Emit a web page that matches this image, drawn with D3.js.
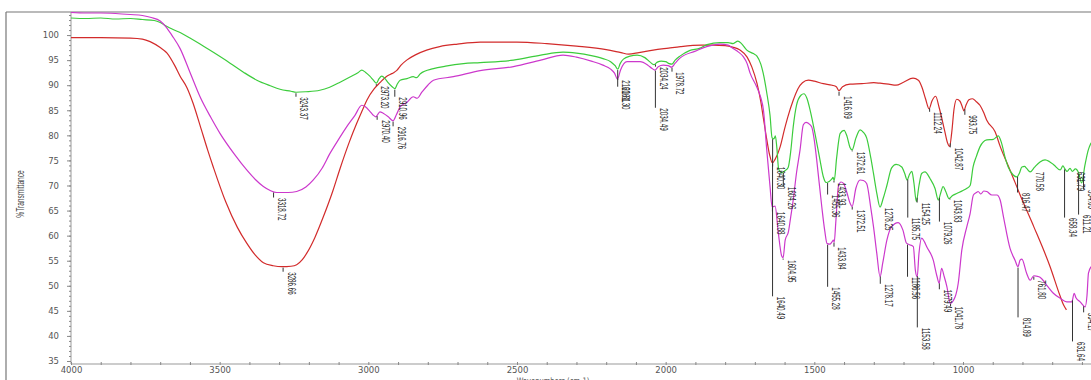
<!DOCTYPE html>
<html>
<head>
<meta charset="utf-8">
<script src="https://cdn.jsdelivr.net/npm/d3@7/dist/d3.min.js"></script>
<style>
  html, body { margin: 0; padding: 0; background: #fff; }
  svg { display: block; }
</style>
</head>
<body>
<svg id="chart" width="1091" height="380"></svg>
<script>
// FTIR spectra: [wavenumber cm-1, %Transmittance]
const redSpectrum = [
  [4000,99.5],[3900,99.5],[3800,99.4],[3760,99.2],[3734,98.7],[3700,97.5],[3677,96.4],[3650,93.8],
  [3633,91.8],[3610,89.5],[3590,86.5],[3566,82.0],[3540,77.0],[3521,73.6],[3480,66.8],[3440,61.6],
  [3409,58.5],[3380,56.1],[3353,54.6],[3320,54.0],[3290,53.8],[3260,53.9],[3241,54.2],[3222,55.2],
  [3207,56.5],[3180,59.6],[3151,63.8],[3120,68.8],[3095,73.4],[3065,78.5],[3039,82.4],[3020,85.0],
  [3005,87.0],[2980,89.3],[2961,90.5],[2940,91.7],[2925,92.2],[2915,92.5],[2905,92.9],[2890,94.0],
  [2871,95.0],[2840,96.1],[2804,97.0],[2760,97.7],[2700,98.2],[2624,98.6],[2500,98.6],[2400,98.3],
  [2300,97.8],[2200,97.1],[2150,96.5],[2125,96.2],[2090,96.5],[2042,97.0],[1990,97.4],[1950,97.7],
  [1880,98.0],[1841,98.0],[1800,97.9],[1775,97.6],[1750,97.0],[1726,95.6],[1710,93.6],[1693,90.4],
  [1680,86.7],[1672,83.7],[1660,79.2],[1650,76.0],[1641,74.5],[1632,75.2],[1615,77.7],[1600,81.3],
  [1590,83.5],[1571,87.0],[1555,89.3],[1540,90.5],[1520,91.0],[1500,90.8],[1470,90.3],[1440,90.0],
  [1426,89.7],[1417,88.9],[1405,89.7],[1380,90.2],[1340,90.3],[1300,90.5],[1279,90.4],[1250,90.2],
  [1225,90.0],[1200,90.6],[1168,91.4],[1150,91.0],[1138,89.6],[1126,87.3],[1114,85.3],[1104,86.9],
  [1092,87.8],[1080,85.5],[1062,81.0],[1052,78.5],[1045,77.8],[1038,80.5],[1030,85.3],[1021,87.2],
  [1010,86.8],[1003,85.8],[997,84.9],[990,86.0],[980,87.1],[968,87.3],[955,86.7],[943,86.0],
  [930,84.5],[920,83.0],[892,80.7],[875,77.8],[842,73.1],[800,67.0],[762,61.8],[707,53.8],
  [673,47.9],[662,46.2],[652,45.2]
];

const greenSpectrum = [
  [4000,103.4],[3950,103.3],[3900,103.4],[3850,103.2],[3800,103.3],[3760,103.1],[3720,102.9],[3700,102.5],
  [3680,101.8],[3660,101.2],[3633,100.5],[3600,99.4],[3566,98.2],[3520,96.5],[3465,94.4],[3420,92.6],
  [3375,91.0],[3330,89.9],[3297,89.2],[3260,88.8],[3243,88.6],[3210,88.7],[3163,89.0],[3130,89.6],
  [3095,90.6],[3060,91.7],[3035,92.5],[3022,93.0],[3010,92.6],[2995,91.8],[2983,91.0],[2973,90.4],
  [2964,91.3],[2955,91.8],[2945,91.4],[2935,90.6],[2920,89.7],[2911,89.3],[2902,90.3],[2893,91.0],
  [2870,91.3],[2849,91.7],[2838,91.5],[2825,92.3],[2781,93.3],[2740,93.8],[2680,94.3],[2624,94.5],
  [2512,95.0],[2420,96.0],[2345,96.6],[2300,96.4],[2250,95.9],[2211,95.3],[2185,94.7],[2170,93.9],
  [2161,93.2],[2153,94.3],[2142,95.2],[2120,95.8],[2096,96.0],[2070,95.5],[2052,94.6],[2040,94.1],
  [2028,94.6],[2015,94.8],[2000,94.7],[1988,94.3],[1979,94.2],[1968,95.0],[1952,95.8],[1920,96.9],
  [1884,97.4],[1861,98.1],[1817,98.5],[1790,98.5],[1773,98.3],[1757,98.8],[1745,98.3],[1727,97.0],
  [1705,96.3],[1693,95.8],[1680,94.2],[1672,92.4],[1660,88.5],[1649,84.0],[1642,79.5],[1636,79.3],
  [1631,79.9],[1626,77.5],[1620,73.3],[1609,72.5],[1600,72.9],[1588,73.6],[1579,77.0],[1571,81.7],
  [1560,86.0],[1545,88.0],[1535,88.3],[1525,87.4],[1514,85.0],[1495,79.5],[1481,75.1],[1470,71.8],
  [1460,70.6],[1450,70.8],[1441,71.3],[1437,71.6],[1433,71.0],[1425,75.5],[1413,80.4],[1400,81.0],
  [1390,79.8],[1380,77.6],[1373,77.1],[1360,79.5],[1346,81.1],[1335,80.6],[1324,79.5],[1310,75.5],
  [1301,72.4],[1290,68.5],[1279,65.7],[1268,67.5],[1256,70.0],[1240,73.5],[1225,74.2],[1206,73.7],
  [1196,72.4],[1188,71.1],[1180,72.2],[1172,72.8],[1165,70.5],[1157,66.8],[1148,70.0],[1139,72.4],
  [1128,72.7],[1111,71.4],[1094,69.4],[1083,67.1],[1075,68.5],[1067,69.8],[1058,68.8],[1047,67.4],
  [1035,68.0],[1021,68.4],[1000,69.0],[988,69.4],[976,70.0],[966,73.7],[955,75.8],[943,77.7],
  [920,79.1],[898,79.2],[881,79.9],[870,78.4],[858,75.5],[848,73.7],[831,72.1],[819,71.7],
  [810,72.5],[802,73.7],[793,73.8],[786,73.4],[774,72.7],[760,73.6],[741,74.7],[724,75.1],
  [710,74.8],[694,74.1],[673,73.1],[664,73.9],[657,73.3],[650,72.8],[640,73.4],[632,72.8],
  [622,73.3],[611,72.5],[601,70.5],[590,74.0],[579,77.0],[569,78.5]
];

const magentaSpectrum = [
  [4000,104.5],[3950,104.4],[3900,104.4],[3850,104.3],[3800,104.1],[3760,103.9],[3730,103.5],[3700,102.8],
  [3680,101.6],[3660,99.9],[3633,97.3],[3600,92.6],[3566,87.7],[3530,83.6],[3499,80.4],[3450,76.2],
  [3409,73.1],[3380,71.2],[3353,69.8],[3330,69.0],[3308,68.6],[3270,68.6],[3241,68.8],[3210,69.7],
  [3185,71.1],[3155,73.5],[3129,76.4],[3100,79.2],[3073,81.7],[3045,84.0],[3022,86.0],[3010,85.7],
  [2995,84.8],[2985,84.1],[2975,83.7],[2968,84.2],[2961,84.7],[2950,84.4],[2933,83.7],[2917,82.9],
  [2905,84.2],[2893,85.7],[2870,86.6],[2849,87.7],[2836,87.4],[2820,88.6],[2800,90.0],[2781,91.0],
  [2714,91.7],[2624,92.9],[2512,93.7],[2420,95.0],[2345,96.0],[2300,95.6],[2250,94.8],[2211,94.0],
  [2185,93.2],[2172,92.4],[2162,91.2],[2152,93.0],[2130,94.7],[2086,94.7],[2060,94.0],[2047,93.4],
  [2036,93.0],[2025,93.7],[2008,94.0],[1992,93.9],[1980,93.6],[1968,94.4],[1952,95.4],[1900,96.8],
  [1862,97.7],[1817,98.2],[1790,98.0],[1773,97.3],[1755,96.6],[1739,95.7],[1726,94.3],[1716,92.4],
  [1694,89.7],[1680,87.5],[1671,85.0],[1660,77.1],[1649,69.8],[1642,65.7],[1632,65.9],[1621,60.5],
  [1610,56.0],[1605,55.6],[1598,59.1],[1587,60.8],[1580,63.5],[1571,67.1],[1560,72.5],[1548,77.1],
  [1537,82.1],[1528,82.6],[1520,82.4],[1509,81.7],[1500,79.0],[1492,75.1],[1475,65.8],[1465,61.0],
  [1457,58.4],[1448,58.3],[1440,58.8],[1436,59.1],[1433,58.7],[1428,62.5],[1419,69.8],[1410,70.7],
  [1402,70.4],[1390,68.5],[1380,66.5],[1373,65.8],[1360,69.5],[1346,71.1],[1335,71.0],[1324,70.4],
  [1310,65.5],[1301,61.8],[1290,56.5],[1279,51.8],[1270,54.5],[1256,59.1],[1240,61.8],[1218,62.6],
  [1202,61.1],[1190,58.5],[1180,58.2],[1167,57.8],[1160,53.0],[1154,51.8],[1148,56.5],[1139,59.5],
  [1130,58.8],[1122,57.8],[1100,55.1],[1088,52.0],[1080,50.5],[1072,53.5],[1063,51.8],[1054,49.8],
  [1043,46.5],[1027,47.7],[1016,50.5],[1004,57.1],[987,61.8],[976,64.4],[965,68.1],[955,68.6],
  [949,68.8],[940,68.3],[930,68.9],[920,68.8],[903,68.1],[886,68.1],[875,67.1],[864,63.8],
  [842,57.5],[825,55.1],[815,53.8],[808,55.1],[802,55.3],[786,52.5],[774,51.1],[762,52.0],
  [752,51.9],[741,51.7],[718,50.1],[696,48.5],[673,47.5],[651,46.8],[634,46.8],[626,48.5],
  [620,47.6],[606,46.8],[589,45.8],[583,48.0],[578,52.5],[569,53.8]
];

// Peak annotations: [peak wavenumber, %T where the rotated label begins]
const redPeaks = [
  [3286.66,52.7],[1640.49,47.8],[1416.89,87.8],[1112.24,84.6],[1042.87,77.5],[993.75,84.0]
];
const greenPeaks = [
  [3243.37,87.6],[2973.20,89.8],[2910.96,87.6],[2161.30,89.6],[2034.24,93.6],[1640.30,73.7],
  [1604.26,69.7],[1455.36,68.1],[1433.93,70.5],[1372.61,76.7],[1278.25,65.5],[1185.75,63.5],
  [1154.25,66.5],[1079.26,62.7],[1043.83,67.1],[816.47,68.5],[770.58,72.7],[658.34,63.5],
  [631.79,72.7],[611.21,64.1],[594.63,69.1]
];
const magentaPeaks = [
  [3318.72,67.5],[2970.40,83.0],[2916.76,81.7],[2160.81,91.0],[2034.49,85.4],[1978.72,92.6],
  [1640.88,64.7],[1604.95,55.1],[1455.28,49.7],[1433.84,57.7],[1372.51,65.1],[1278.17,50.3],
  [1186.56,51.7],[1153.58,41.6],[1079.49,49.2],[1041.78,45.8],[814.89,43.6],[761.80,51.1],
  [631.64,38.8],[594.17,44.6]
];

const xTickLabels = [4000, 3500, 3000, 2500, 2000, 1500, 1000];
const yTickLabels = [35, 40, 45, 50, 55, 60, 65, 70, 75, 80, 85, 90, 95, 100];

const svg = d3.select("#chart");
const W = 1091, H = 380;
const plot = { left: 71, top: 12, bottom: 364, right: W };

const x = d3.scaleLinear().domain([4000, 400]).range([plot.left, plot.left + 3600 * 0.29733]);
const y = d3.scaleLinear().domain([34.4, 104.6]).range([plot.bottom, plot.top]);

// window frame
svg.append("line").attr("x1", 6).attr("x2", W).attr("y1", plot.top).attr("y2", plot.top)
  .attr("stroke", "#777").attr("stroke-width", 1.2);
svg.append("line").attr("x1", 6).attr("x2", 6).attr("y1", plot.top).attr("y2", H)
  .attr("stroke", "#777").attr("stroke-width", 1.2);

// y axis: minor ticks every 1 %T, labelled majors every 5
const yMinor = svg.append("g").attr("transform", `translate(${plot.left},0)`)
  .call(d3.axisLeft(y).tickValues(d3.range(35, 105, 1)).tickSize(2).tickFormat(""));
const yMajor = svg.append("g").attr("transform", `translate(${plot.left},0)`)
  .call(d3.axisLeft(y).tickValues(yTickLabels).tickSize(4).tickPadding(8));
[yMinor, yMajor].forEach(g => {
  g.select(".domain").attr("stroke", "#999");
  g.selectAll(".tick line").attr("stroke", "#888");
});
yMajor.select(".domain").remove();
yMinor.select(".domain").attr("d", `M0,${plot.top}V${plot.bottom}`);
yMajor.selectAll("text").attr("font-family", "DejaVu Sans").attr("font-size", "8.5px").attr("fill", "#555");

// x axis: ticks every 100 cm-1, labels every 500
const xAxis = svg.append("g").attr("transform", `translate(0,${plot.bottom})`)
  .call(d3.axisBottom(x).tickValues(d3.range(4000, 500, -100)).tickSize(2)
    .tickFormat(d => xTickLabels.includes(d) ? d : ""));
xAxis.select(".domain").attr("d", `M${plot.left},0H${W}`).attr("stroke", "#999");
xAxis.selectAll(".tick line").attr("stroke", "#888").attr("y1", -2).attr("y2", 1);
xAxis.selectAll("text").attr("y", 3).attr("font-family", "DejaVu Sans")
  .attr("font-size", "8.5px").attr("fill", "#555");

// axis titles (condensed)
svg.append("text")
  .attr("transform", `translate(24,${194}) rotate(-90) scale(0.66,1)`)
  .attr("text-anchor", "middle").attr("font-family", "Liberation Sans").attr("font-size", "10px")
  .attr("fill", "#444").text("%Transmittance");
svg.append("text")
  .attr("transform", `translate(553,383.5) scale(0.75,1)`)
  .attr("text-anchor", "middle").attr("font-family", "DejaVu Sans").attr("font-size", "9px")
  .attr("fill", "#555").text("Wavenumbers (cm-1)");

// spectra
const clip = svg.append("clipPath").attr("id", "plotClip").append("rect")
  .attr("x", plot.left).attr("y", plot.top).attr("width", W - plot.left).attr("height", plot.bottom - plot.top);
const line = d3.line().x(d => x(d[0])).y(d => y(d[1])).curve(d3.curveMonotoneX);
const series = [
  { data: redSpectrum, peaks: redPeaks, color: "#d22b2b" },
  { data: greenSpectrum, peaks: greenPeaks, color: "#3ccc3c" },
  { data: magentaSpectrum, peaks: magentaPeaks, color: "#cc38cc" }
];
const gLines = svg.append("g").attr("clip-path", "url(#plotClip)");
series.forEach(s => {
  gLines.append("path").datum(s.data).attr("d", line)
    .attr("fill", "none").attr("stroke", s.color).attr("stroke-width", 1.2);
});

// %T of a spectrum at a given wavenumber (linear between samples)
function valueAt(data, wn) {
  for (let i = 0; i < data.length - 1; i++) {
    const a = data[i], b = data[i + 1];
    if (wn <= a[0] && wn >= b[0]) {
      const t = (a[0] - wn) / (a[0] - b[0]);
      return a[1] + t * (b[1] - a[1]);
    }
  }
  return data[data.length - 1][1];
}

// peak leaders and rotated labels
const gPeaks = svg.append("g");
series.forEach(s => {
  s.peaks.forEach(([wn, at]) => {
    const px = x(wn);
    const cy = y(valueAt(s.data, wn));
    const ty = y(at);
    if (ty - cy > 2) {
      gPeaks.append("line").attr("x1", px).attr("x2", px).attr("y1", cy + 1).attr("y2", ty - 0.5)
        .attr("stroke", "#333").attr("stroke-width", 1);
    }
    gPeaks.append("text")
      .attr("transform", `translate(${px + 4.5},${ty}) rotate(90) scale(0.62,1)`)
      .attr("font-family", "Liberation Sans").attr("font-size", "10px").attr("fill", "#222")
      .text(wn.toFixed(2));
  });
});
</script>
</body>
</html>
